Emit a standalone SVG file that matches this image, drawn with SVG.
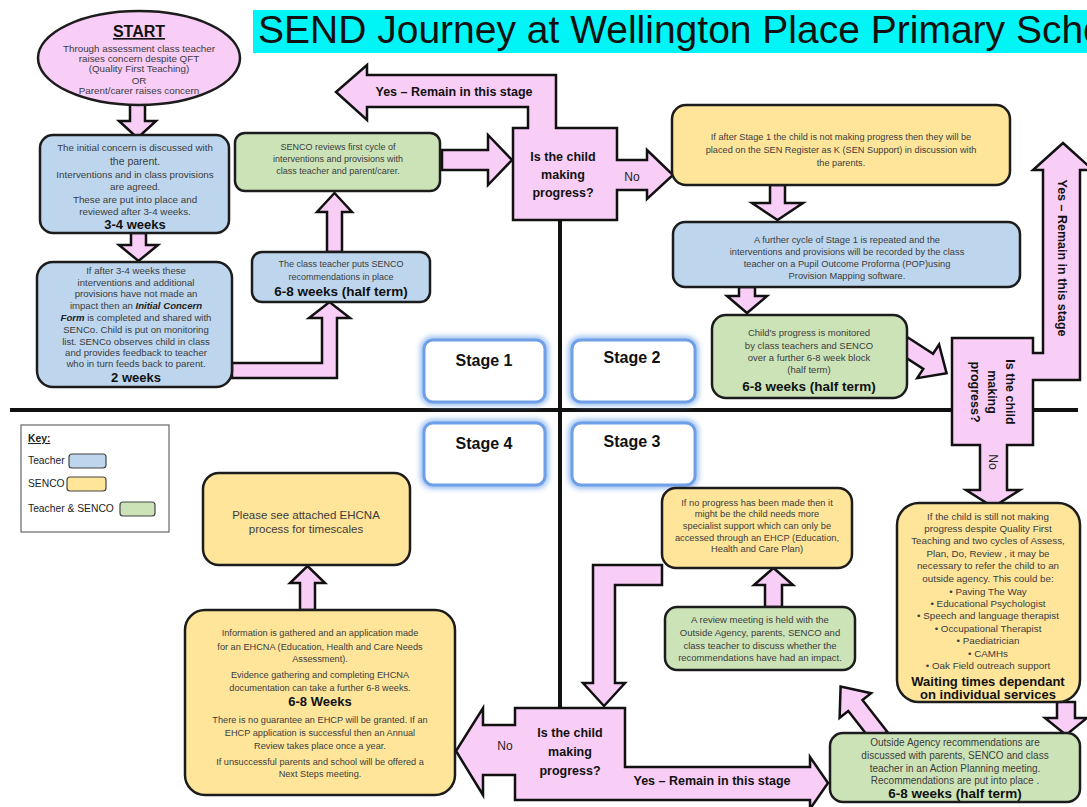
<svg xmlns="http://www.w3.org/2000/svg" width="1087" height="807" viewBox="0 0 1087 807">
<defs>
<style>
.box{stroke:#1c1c1c;stroke-width:2.5}
.blue{fill:#bdd6ee}
.yel{fill:#fee59a}
.grn{fill:#cce3b8}
.pink{fill:#f8cdf6;stroke:#111;stroke-width:2.5;stroke-linejoin:miter}
.t{font-family:"Liberation Sans",Arial,sans-serif;fill:#3c3c3c;text-anchor:middle}
.b{font-family:"Liberation Sans",Arial,sans-serif;font-weight:bold;fill:#111;text-anchor:middle}
.n{font-family:"Liberation Sans",Arial,sans-serif;fill:#222;text-anchor:middle}
.k{font-family:"Liberation Sans",Arial,sans-serif;fill:#222;font-size:10.3px}
.sw{stroke:#444;stroke-width:1.2}
.glow{fill:none;stroke:#9fc2f2;stroke-width:8}
.stg{fill:#fff;stroke:#6f9fe8;stroke-width:3}
</style>
<filter id="blur" x="-20%" y="-30%" width="140%" height="160%"><feGaussianBlur stdDeviation="2.5"/></filter>
</defs>
<rect width="1087" height="807" fill="#fff"/>

<g id="title">
<rect x="253" y="10" width="834" height="43" fill="#00f6f6"/>
<text x="258" y="43" font-family="Liberation Sans, Arial, sans-serif" font-size="39" fill="#111">SEND Journey at Wellington Place Primary School</text>
</g>

<g id="quadrant-lines" stroke="#111" stroke-width="4">
<line x1="10" y1="410" x2="1078" y2="410"/>
<line x1="560" y1="220" x2="560" y2="708"/>
</g>

<g id="connectors">
<polygon class="pink" points="130,104 145,104 145,121 156,121 137.5,138 119,121 130,121"/>
<polygon class="pink" points="131,233 146,233 146,245 158,245 138.5,261 119,245 131,245"/>
<polygon class="pink" points="232,363 322,363 322,318 309,318 329.5,302 350,318 337,318 337,378 232,378"/>
<polygon class="pink" points="327,252 342,252 342,212 352,212 334.5,193 317,212 327,212"/>
<polygon class="pink" points="442,150 488,150 488,135 512,160 488,185 488,170 442,170"/>
<polygon class="pink" points="770,185 785,185 785,203 803,203 777.5,220 752,203 770,203"/>
<polygon class="pink" points="739,287 755,287 755,296 767,296 747,313 727,296 739,296"/>
<polygon class="pink" points="0,-9 30,-9 30,-20 52,0 30,20 30,9 0,9" transform="translate(903,345) rotate(33)"/>
<polygon class="pink" points="1057,702 1075,702 1075,718 1087,718 1066,735 1045,718 1057,718"/>
<polygon class="pink" points="0,-9 40,-9 40,-20 64,0 40,20 40,9 0,9" transform="translate(880,737) rotate(-128)"/>
<polygon class="pink" points="765,607 782,607 782,585 793,585 773.5,568 754,585 765,585"/>
<polygon class="pink" points="662,565 593,565 593,683 583,683 604,706 625,683 615,683 615,585 662,585"/>
<polygon class="pink" points="300,610 315,610 315,583 325,583 307.5,566 290,583 300,583"/>
</g>

<g id="start">
<ellipse cx="139" cy="58" rx="101" ry="47" fill="#f8cdf6" class="box"/>
<text class="b" x="139" y="37" font-size="16" text-decoration="underline">START</text>
<text class="t" x="139" y="51.5" font-size="9.8">Through assessment class teacher</text>
<text class="t" x="139" y="61.5" font-size="9.8">raises concern despite QFT</text>
<text class="t" x="139" y="71.5" font-size="9.8">(Quality First Teaching)</text>
<text class="t" x="139" y="83.5" font-size="9.8">OR</text>
<text class="t" x="139" y="93.5" font-size="9.8">Parent/carer raises concern</text>
</g>

<g id="box-initial">
<rect x="40" y="135" width="189" height="98" rx="13" class="box blue"/>
<text class="t" x="135" y="151" font-size="9.8">The initial concern is discussed with</text>
<text class="t" x="135" y="165" font-size="10.5">the parent.</text>
<text class="t" x="135" y="178" font-size="9.8">Interventions and in class provisions</text>
<text class="t" x="135" y="190" font-size="9.8">are agreed.</text>
<text class="t" x="135" y="203" font-size="9.8">These are put into place  and</text>
<text class="t" x="135" y="215" font-size="9.8">reviewed after 3-4 weeks.</text>
<text class="b" x="135" y="229" font-size="13">3-4 weeks</text>
</g>

<g id="box-concern-form">
<rect x="37" y="262" width="195" height="125" rx="16" class="box blue"/>
<text class="t" x="136" y="274" font-size="9.6">If after 3-4 weeks these</text>
<text class="t" x="136" y="286" font-size="9.6">interventions and additional</text>
<text class="t" x="136" y="297" font-size="9.6">provisions have not made an</text>
<text class="t" x="136" y="309" font-size="9.6">impact then an <tspan font-weight="bold" font-style="italic" fill="#222">Initial Concern</tspan></text>
<text class="t" x="136" y="321" font-size="9.6"><tspan font-weight="bold" font-style="italic" fill="#222">Form</tspan> is completed and shared with</text>
<text class="t" x="136" y="333" font-size="9.6">SENCo.  Child is put on monitoring</text>
<text class="t" x="136" y="345" font-size="9.6">list. SENCo observes child in class</text>
<text class="t" x="136" y="356" font-size="9.6">and provides feedback to teacher</text>
<text class="t" x="136" y="367" font-size="9.6">who in turn feeds back to parent.</text>
<text class="b" x="136" y="382" font-size="13">2 weeks</text>
</g>

<g id="box-senco-review">
<rect x="235" y="133" width="205" height="58" rx="10" class="box grn"/>
<text class="t" x="338" y="150" font-size="9">SENCO reviews first cycle of</text>
<text class="t" x="338" y="162" font-size="9">interventions and provisions with</text>
<text class="t" x="338" y="174" font-size="9">class teacher and parent/carer.</text>
</g>

<g id="box-class-teacher">
<rect x="252" y="252" width="178" height="50" rx="10" class="box blue"/>
<text class="t" x="341" y="267" font-size="9">The class teacher puts SENCO</text>
<text class="t" x="341" y="280" font-size="9">recommendations in place</text>
<text class="b" x="341" y="296" font-size="13.5">6-8 weeks (half term)</text>
</g>

<g id="decision-1">
<polygon class="pink" points="513,128 528,128 528,107 367,107 367,120 336,92 367,65 367,75 556,75 556,128 617,128 617,160 647,160 647,150 673,175 647,199 647,190 617,190 617,220 513,220"/>
<text class="b" x="454" y="96" font-size="12.5">Yes – Remain in this stage</text>
<text class="b" x="563" y="161" font-size="12.5">Is the child</text>
<text class="b" x="563" y="179" font-size="12.5">making</text>
<text class="b" x="563" y="197" font-size="12.5">progress?</text>
<text class="n" x="632" y="181" font-size="12">No</text>
</g>

<g id="box-sen-register">
<rect x="672" y="105" width="338" height="80" rx="14" class="box yel"/>
<text class="t" x="841" y="140" font-size="9.2">If after Stage 1 the child is not making progress then they will be</text>
<text class="t" x="841" y="153" font-size="9.2">placed on the SEN Register as K  (SEN Support) in discussion with</text>
<text class="t" x="841" y="166" font-size="9.2">the parents.</text>
</g>

<g id="box-further-cycle">
<rect x="673" y="222" width="347" height="65" rx="12" class="box blue"/>
<text class="t" x="847" y="243" font-size="9.3">A further cycle of Stage 1 is repeated and the</text>
<text class="t" x="847" y="255" font-size="9.3">interventions and provisions will be recorded  by the class</text>
<text class="t" x="847" y="267" font-size="9.3">teacher on a Pupil Outcome Proforma (POP)using</text>
<text class="t" x="847" y="279" font-size="9.3">Provision Mapping software.</text>
</g>

<g id="box-monitored">
<rect x="712" y="315" width="195" height="83" rx="14" class="box grn"/>
<text class="t" x="809" y="336" font-size="9.5">Child's progress is monitored</text>
<text class="t" x="809" y="349" font-size="9.5">by class teachers and SENCO</text>
<text class="t" x="809" y="361" font-size="9.5">over a further  6-8 week block</text>
<text class="t" x="809" y="373" font-size="9.5">(half term)</text>
<text class="b" x="809" y="391" font-size="13.5">6-8 weeks (half term)</text>
</g>

<g id="decision-2">
<polygon class="pink" points="952,338 1033,338 1033,353 1043,353 1043,170 1033,170 1063,143 1093,170 1080,170 1080,380 1033,380 1033,445 1007,445 1007,490 1020,490 993,507 966,490 980,490 980,445 952,445"/>
<text class="b" font-size="12.5" transform="translate(1062,258) rotate(90)" x="0" y="4.5">Yes – Remain in this stage</text>
<g transform="translate(992,392) rotate(90)">
<text class="b" font-size="12.5" x="0" y="-13.5">Is the child</text>
<text class="b" font-size="12.5" x="0" y="4">making</text>
<text class="b" font-size="12.5" x="0" y="21.5">progress?</text>
</g>
<text class="n" font-size="12" transform="translate(993,462) rotate(90)" x="0" y="4">No</text>
</g>

<g id="stage-labels">
<rect x="424" y="340" width="121" height="62" rx="9" class="glow" filter="url(#blur)"/>
<rect x="424" y="340" width="121" height="62" rx="9" class="stg"/>
<text class="b" x="484" y="366" font-size="16">Stage 1</text>
<rect x="572" y="340" width="123" height="62" rx="9" class="glow" filter="url(#blur)"/>
<rect x="572" y="340" width="123" height="62" rx="9" class="stg"/>
<text class="b" x="632" y="363" font-size="16">Stage 2</text>
<rect x="424" y="423" width="121" height="62" rx="9" class="glow" filter="url(#blur)"/>
<rect x="424" y="423" width="121" height="62" rx="9" class="stg"/>
<text class="b" x="484" y="449" font-size="16">Stage 4</text>
<rect x="572" y="423" width="123" height="62" rx="9" class="glow" filter="url(#blur)"/>
<rect x="572" y="423" width="123" height="62" rx="9" class="stg"/>
<text class="b" x="632" y="447" font-size="16">Stage 3</text>
</g>

<g id="key">
<rect x="21" y="425" width="148" height="107" fill="#fff" stroke="#666" stroke-width="1.2"/>
<text class="k" x="28" y="442" font-weight="bold" text-decoration="underline">Key:</text>
<text class="k" x="28" y="464">Teacher</text>
<rect x="69" y="454" width="37" height="14" rx="3" fill="#bdd6ee" class="sw"/>
<text class="k" x="28" y="487">SENCO</text>
<rect x="67" y="477" width="39" height="14" rx="3" fill="#fee59a" class="sw"/>
<text class="k" x="28" y="512">Teacher &amp; SENCO</text>
<rect x="120" y="502" width="35" height="14" rx="3" fill="#cce3b8" class="sw"/>
</g>

<g id="box-ehcna-process">
<rect x="203" y="473" width="207" height="92" rx="16" class="box yel"/>
<text class="t" x="306" y="519" font-size="11.5">Please see attached EHCNA</text>
<text class="t" x="306" y="533" font-size="11.5">process for timescales</text>
</g>

<g id="box-ehcna-application">
<rect x="185" y="610" width="270" height="185" rx="20" class="box yel"/>
<text class="t" x="320" y="636" font-size="9.2">Information is gathered and  an  application made</text>
<text class="t" x="320" y="650" font-size="9.2">for an EHCNA  (Education, Health and Care Needs</text>
<text class="t" x="320" y="662" font-size="9.2">Assessment).</text>
<text class="t" x="320" y="678" font-size="9.2">Evidence gathering and  completing EHCNA</text>
<text class="t" x="320" y="691" font-size="9.2">documentation can take a further  6-8 weeks.</text>
<text class="b" x="320" y="706" font-size="13">6-8  Weeks</text>
<text class="t" x="320" y="723" font-size="9.2">There is no  guarantee an  EHCP  will be granted. If an</text>
<text class="t" x="320" y="736" font-size="9.2">EHCP  application is successful then an  Annual</text>
<text class="t" x="320" y="749" font-size="9.2">Review takes place once a year.</text>
<text class="t" x="320" y="765" font-size="9.2">If unsuccessful parents  and school will be offered a</text>
<text class="t" x="320" y="777" font-size="9.2">Next Steps meeting.</text>
</g>

<g id="box-ehcp">
<rect x="662" y="488" width="190" height="80" rx="14" class="box yel"/>
<text class="t" x="757" y="506" font-size="9.3">If no progress has been made then it</text>
<text class="t" x="757" y="517" font-size="9.3">might be the child needs more</text>
<text class="t" x="757" y="529" font-size="9.3">specialist support which can only be</text>
<text class="t" x="757" y="541" font-size="9.3">accessed through an EHCP  (Education,</text>
<text class="t" x="757" y="552" font-size="9.3">Health and Care Plan)</text>
</g>

<g id="box-review-meeting">
<rect x="665" y="607" width="190" height="63" rx="12" class="box grn"/>
<text class="t" x="760" y="623" font-size="9.5">A review meeting is held with the</text>
<text class="t" x="760" y="636" font-size="9.5">Outside Agency, parents, SENCO and</text>
<text class="t" x="760" y="649" font-size="9.5">class teacher to discuss whether the</text>
<text class="t" x="760" y="661" font-size="9.5">recommendations have had an impact.</text>
</g>

<g id="box-outside-agency">
<rect x="897" y="503" width="183" height="199" rx="22" class="box yel"/>
<text class="t" x="988" y="520" font-size="9.8">If the child is still not making</text>
<text class="t" x="988" y="532" font-size="9.8">progress despite Quality First</text>
<text class="t" x="988" y="544" font-size="9.8">Teaching and two cycles of Assess,</text>
<text class="t" x="988" y="557" font-size="9.8">Plan, Do, Review , it may be</text>
<text class="t" x="988" y="569" font-size="9.8">necessary to refer the child to an</text>
<text class="t" x="988" y="582" font-size="9.8">outside agency.  This could be:</text>
<text class="t" x="988" y="595" font-size="9.8">•   Paving The Way</text>
<text class="t" x="988" y="607" font-size="9.8">•   Educational Psychologist</text>
<text class="t" x="988" y="619" font-size="9.8">•   Speech and language therapist</text>
<text class="t" x="988" y="632" font-size="9.8">•   Occupational Therapist</text>
<text class="t" x="988" y="644" font-size="9.8">•   Paediatrician</text>
<text class="t" x="988" y="657" font-size="9.8">•   CAMHs</text>
<text class="t" x="988" y="669" font-size="9.8">•   Oak Field outreach support</text>
<text class="b" x="988" y="686" font-size="13">Waiting times dependant</text>
<text class="b" x="988" y="699" font-size="13">on individual services</text>
</g>

<g id="box-action-planning">
<rect x="830" y="733" width="250" height="69" rx="13" class="box grn"/>
<text class="t" x="955" y="746" font-size="10">Outside Agency recommendations are</text>
<text class="t" x="955" y="759" font-size="10">discussed with parents, SENCO and class</text>
<text class="t" x="955" y="772" font-size="10">teacher in an Action Planning meeting.</text>
<text class="t" x="955" y="784" font-size="10">Recommendations are put into place .</text>
<text class="b" x="955" y="798" font-size="13.5">6-8 weeks (half term)</text>
</g>

<g id="decision-3">
<polygon class="pink" points="515,708 625,708 625,767 810,767 810,757 828,783 810,809 810,800 515,800 515,775 483,775 483,795 456,751 483,708 483,725 515,725"/>
<text class="b" x="570" y="737" font-size="12.5">Is the child</text>
<text class="b" x="570" y="756" font-size="12.5">making</text>
<text class="b" x="570" y="775" font-size="12.5">progress?</text>
<text class="n" x="505" y="750" font-size="12">No</text>
<text class="b" x="712" y="785" font-size="12.5">Yes – Remain in this stage</text>
</g>
</svg>
